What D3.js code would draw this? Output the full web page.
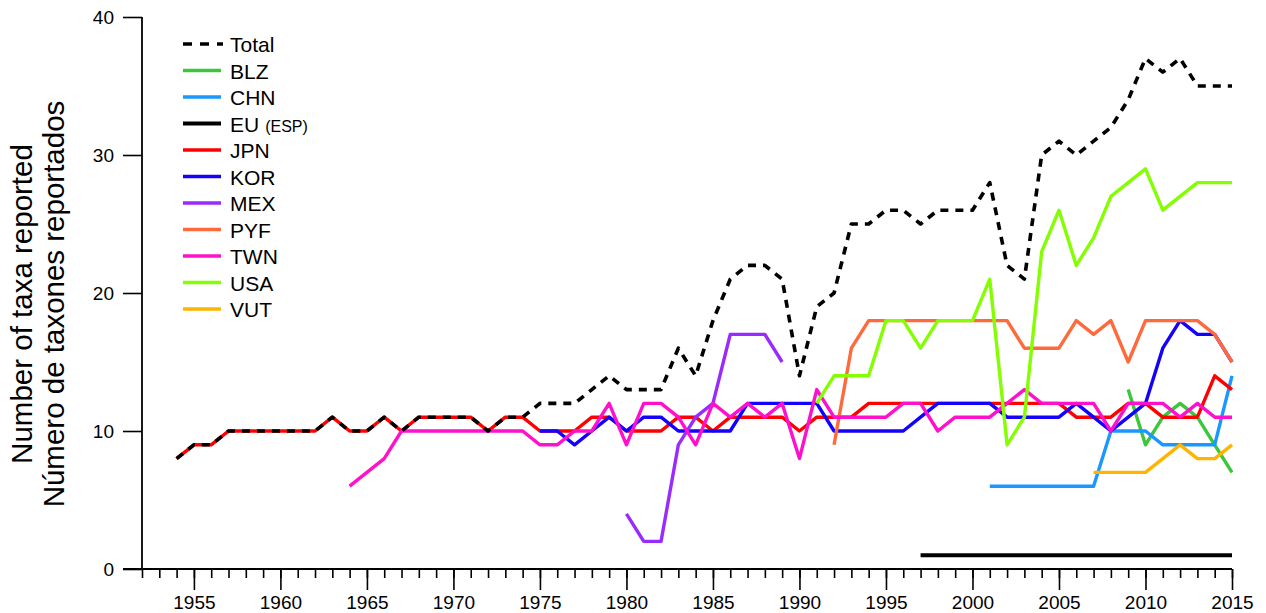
<!DOCTYPE html>
<html>
<head>
<meta charset="utf-8">
<script src="https://cdn.jsdelivr.net/npm/d3@7"></script>
<style>
  html, body { margin: 0; padding: 0; background: #fff; }
  svg { display: block; font-family: "Liberation Sans", Arial, sans-serif; }
</style>
</head>
<body>
<svg id="chart" width="1266" height="613"></svg>
<script>
// Taxa reported per year, by fleet
const seriesNames = ["Total", "BLZ", "CHN", "EU", "JPN", "KOR", "MEX", "PYF", "TWN", "USA", "VUT"];
const legendLabels = ["Total", "BLZ", "CHN", "EU", "JPN", "KOR", "MEX", "PYF", "TWN", "USA", "VUT"];

const totalStart = 1954;
const totalValues = [8, 9, 9, 10, 10, 10, 10, 10, 10, 11, 10, 10, 11, 10, 11, 11, 11, 11, 10, 11, 11,
  12, 12, 12, 13, 14, 13, 13, 13, 16, 14, 18, 21, 22, 22, 21, 14, 19, 20, 25, 25, 26, 26, 25, 26, 26,
  26, 28, 22, 21, 30, 31, 30, 31, 32, 34, 37, 36, 37, 35, 35, 35];

const blzStart = 2009;
const blzValues = [13, 9, 11, 12, 11, 9, 7];

const chnStart = 2001;
const chnValues = [6, 6, 6, 6, 6, 6, 6, 10, 10, 10, 9, 9, 9, 9, 14];

const euStart = 1997;
const euValues = [1, 1, 1, 1, 1, 1, 1, 1, 1, 1, 1, 1, 1, 1, 1, 1, 1, 1, 1];

const jpnStart = 1954;
const jpnValues = [8, 9, 9, 10, 10, 10, 10, 10, 10, 11, 10, 10, 11, 10, 11, 11, 11, 11, 10, 11, 11,
  10, 10, 10, 11, 11, 10, 10, 10, 11, 11, 10, 11, 11, 11, 11, 10, 11, 11, 11, 12, 12, 12, 12, 12, 12,
  12, 12, 12, 12, 12, 12, 11, 11, 11, 12, 12, 11, 11, 11, 14, 13];

const korStart = 1975;
const korValues = [10, 10, 9, 10, 11, 10, 11, 11, 10, 10, 10, 10, 12, 12, 12, 12, 12, 10, 10, 10,
  10, 10, 11, 12, 12, 12, 12, 11, 11, 11, 11, 12, 11, 10, 11, 12, 16, 18, 17, 17, 15];

const mexStart = 1980;
const mexValues = [4, 2, 2, 9, 11, 12, 17, 17, 17, 15];

const pyfStart = 1992;
const pyfValues = [9, 16, 18, 18, 18, 18, 18, 18, 18, 18, 18, 16, 16, 16, 18, 17, 18, 15, 18, 18, 18, 18, 17, 15];

const twnStart = 1964;
const twnValues = [6, 7, 8, 10, 10, 10, 10, 10, 10, 10, 10, 9, 9, 10, 10, 12, 9, 12, 12, 11, 9,
  12, 11, 12, 11, 12, 8, 13, 11, 11, 11, 11, 12, 12, 10, 11, 11, 11, 12, 13, 12, 12, 12, 12, 10, 12,
  12, 12, 11, 12, 11, 11];

const usaStart = 1991;
const usaValues = [12, 14, 14, 14, 18, 18, 16, 18, 18, 18, 21, 9, 11, 23, 26, 22, 24, 27, 28, 29, 26, 27, 28, 28, 28];

const vutStart = 2007;
const vutValues = [7, 7, 7, 7, 8, 9, 8, 8, 9];

const yTickValues = [0, 10, 20, 30, 40];
const xMajorTicks = [1955, 1960, 1965, 1970, 1975, 1980, 1985, 1990, 1995, 2000, 2005, 2010, 2015];
const yTitleLines = ["Number of taxa reported", "Número de taxones reportados"];

// Build series table from the arrays above
function toPoints(start, values) {
  return values.map((v, i) => ({ year: start + i, value: v }));
}
const seriesData = {
  Total: toPoints(totalStart, totalValues),
  BLZ: toPoints(blzStart, blzValues),
  CHN: toPoints(chnStart, chnValues),
  EU: toPoints(euStart, euValues),
  JPN: toPoints(jpnStart, jpnValues),
  KOR: toPoints(korStart, korValues),
  MEX: toPoints(mexStart, mexValues),
  PYF: toPoints(pyfStart, pyfValues),
  TWN: toPoints(twnStart, twnValues),
  USA: toPoints(usaStart, usaValues),
  VUT: toPoints(vutStart, vutValues)
};

const colors = {
  Total: "#000000",
  BLZ: "#3cc63c",
  CHN: "#1a98ff",
  EU: "#000000",
  JPN: "#ff0000",
  KOR: "#1400ff",
  MEX: "#9a2bff",
  PYF: "#ff6a3c",
  TWN: "#ff10cc",
  USA: "#84ff00",
  VUT: "#ffb400"
};

const svg = d3.select("#chart");
const plotLeft = 142, plotRight = 1232, plotTop = 17, plotBottom = 569;

const x = d3.scaleLinear().domain([1952, 2015]).range([plotLeft, plotRight]);
const y = d3.scaleLinear().domain([0, 40]).range([plotBottom, plotTop]);

// Axes
const allYears = d3.range(1952, 2016);
const xAxisMinor = d3.axisBottom(x).tickValues(allYears).tickSize(9).tickFormat("");
const xAxisMajor = d3.axisBottom(x).tickValues(xMajorTicks).tickSize(21).tickFormat(d3.format("d"));

const gxMinor = svg.append("g").attr("transform", `translate(0,${plotBottom})`).call(xAxisMinor);
gxMinor.select(".domain").remove();
gxMinor.selectAll("line").attr("stroke", "#000").attr("stroke-width", 1.6);

const gxMajor = svg.append("g").attr("transform", `translate(0,${plotBottom})`).call(xAxisMajor);
gxMajor.select(".domain").remove();
gxMajor.selectAll("line").attr("stroke", "#000").attr("stroke-width", 1.6);
gxMajor.selectAll("text")
  .attr("font-size", 19).attr("fill", "#000")
  .attr("font-family", "'Liberation Sans', Arial, sans-serif")
  .attr("y", 27).attr("dy", "0.71em");

const yAxis = d3.axisLeft(y).tickValues(yTickValues).tickSize(19).tickPadding(9).tickFormat(d3.format("d"));
const gy = svg.append("g").attr("transform", `translate(${plotLeft},0)`).call(yAxis);
gy.select(".domain").remove();
gy.selectAll("line").attr("stroke", "#000").attr("stroke-width", 1.6);
gy.selectAll("text")
  .attr("font-size", 19).attr("fill", "#000")
  .attr("font-family", "'Liberation Sans', Arial, sans-serif");

// Axis lines
svg.append("line")
  .attr("x1", plotLeft).attr("x2", plotLeft).attr("y1", y(40)).attr("y2", y(0))
  .attr("stroke", "#000").attr("stroke-width", 1.8);
svg.append("line")
  .attr("x1", plotLeft - 19).attr("x2", x(2015)).attr("y1", y(0)).attr("y2", y(0))
  .attr("stroke", "#000").attr("stroke-width", 1.8);

// Y-axis title (two languages)
const yTitle = svg.append("text")
  .attr("transform", `translate(0,304) rotate(-90)`)
  .attr("text-anchor", "middle")
  .attr("font-size", 29.5)
  .attr("fill", "#000");
yTitle.selectAll("tspan").data(yTitleLines).join("tspan")
  .attr("x", 0)
  .attr("y", (d, i) => 32 + i * 32)
  .text(d => d);

// Lines
const line = d3.line().x(d => x(d.year)).y(d => y(d.value));

const drawOrder = ["BLZ", "CHN", "EU", "JPN", "KOR", "MEX", "PYF", "TWN", "USA", "VUT", "Total"];
drawOrder.forEach(name => {
  const p = svg.append("path")
    .datum(seriesData[name])
    .attr("d", line)
    .attr("fill", "none")
    .attr("stroke", colors[name])
    .attr("stroke-width", name === "EU" ? 4 : 3.4)
    .attr("stroke-linejoin", "round");
  if (name === "Total") {
    p.attr("stroke-dasharray", "8,7").attr("stroke-width", 3.6);
  }
});

// Legend
const legend = svg.append("g").attr("transform", "translate(183,44)");
const rowH = 26.5;
seriesNames.forEach((name, i) => {
  const g = legend.append("g").attr("transform", `translate(0,${i * rowH})`);
  const l = g.append("line")
    .attr("x1", 0).attr("x2", 38).attr("y1", 0).attr("y2", 0)
    .attr("stroke", colors[name])
    .attr("stroke-width", name === "EU" ? 4 : 3.6);
  if (name === "Total") l.attr("stroke-dasharray", "9,8").attr("x2", 40);
  const t = g.append("text")
    .attr("x", 47).attr("y", 8)
    .attr("font-size", 21)
    .attr("fill", "#000")
    .text(legendLabels[i]);
  if (name === "EU") {
    t.append("tspan").attr("font-size", 16).attr("dx", 6).text("(ESP)");
  }
});
</script>
</body>
</html>
